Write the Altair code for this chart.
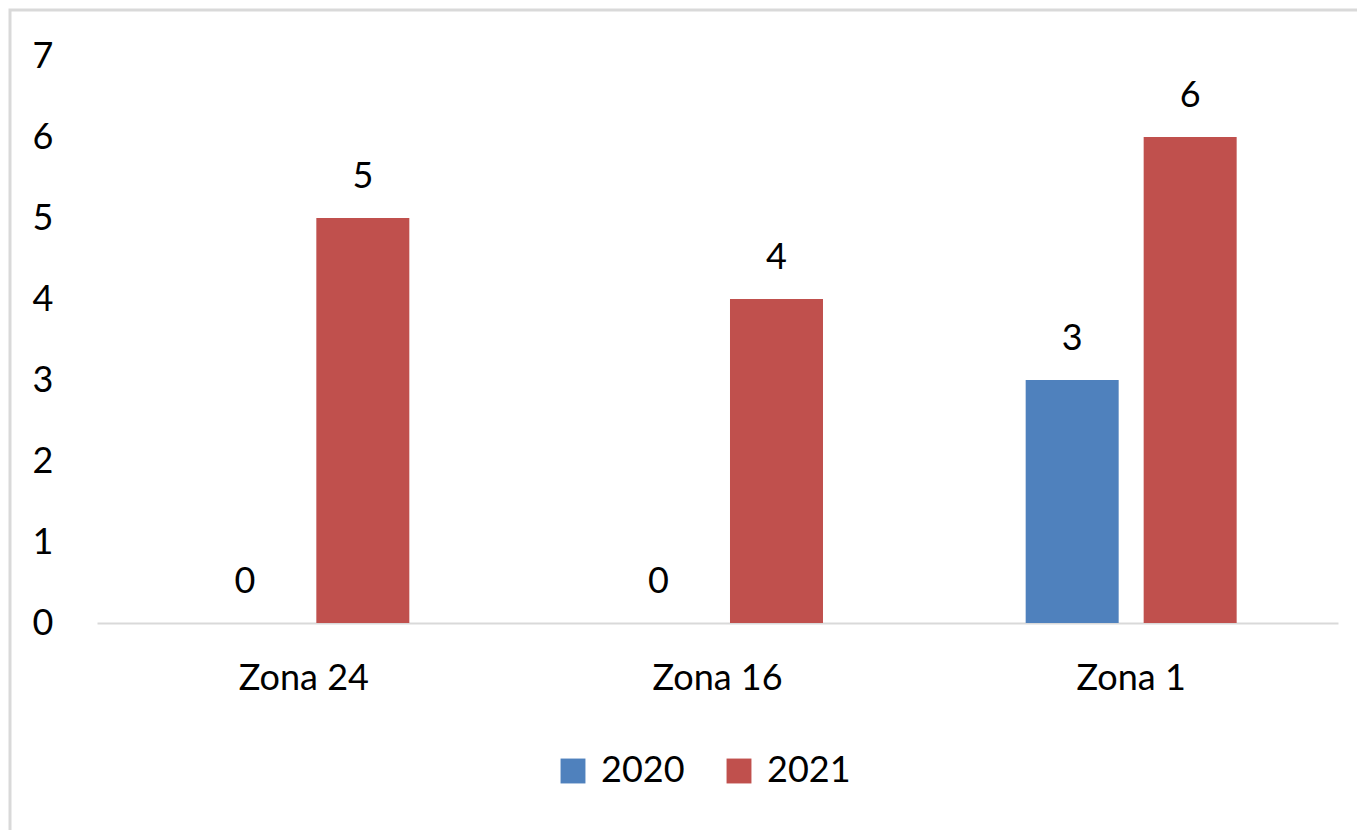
import altair as alt
import pandas as pd

zones = ["Zona 24", "Zona 16", "Zona 1"]
years = ["2020", "2021"]
values_2020 = [0, 0, 3]
values_2021 = [5, 4, 6]

rows = []
for i, z in enumerate(zones):
    rows.append({"zona": z, "year": "2020", "value": values_2020[i]})
    rows.append({"zona": z, "year": "2021", "value": values_2021[i]})
df = pd.DataFrame(rows)

FONT = "Lato"
W, H = 1241, 567

x_enc = alt.X("zona:N", sort=zones, title=None,
              scale=alt.Scale(paddingInner=0, paddingOuter=0),
              axis=alt.Axis(labelAngle=0, labelFontSize=36, labelFont=FONT, labelColor="#000000",
                            labelPadding=38, ticks=False, domainColor="#D9D9D9", domainWidth=2,
                            grid=False))
xo_enc = alt.XOffset("year:N", sort=years,
                     scale=alt.Scale(paddingInner=0.212, paddingOuter=0.859))
y_enc = alt.Y("value:Q", title=None,
              scale=alt.Scale(domain=[0, 7], nice=False),
              axis=alt.Axis(values=list(range(0, 8)), format="d", labelFontSize=36, labelFont=FONT,
                            labelColor="#000000", labelPadding=44, ticks=False, domain=False,
                            grid=False))

color_enc = alt.Color("year:N", sort=years,
                      scale=alt.Scale(domain=years, range=["#4F81BD", "#C0504D"]),
                      legend=alt.Legend(title=None, orient="none", direction="horizontal",
                                        legendX=458, legendY=697, symbolType="square",
                                        symbolSize=620, symbolStrokeWidth=0,
                                        labelFontSize=36, labelFont=FONT, labelColor="#000000",
                                        columnPadding=36, labelOffset=10, padding=0))

bars = alt.Chart(df).mark_bar(size=93).encode(
    x=x_enc, xOffset=xo_enc, y=y_enc, color=color_enc
)

labels = alt.Chart(df).mark_text(fontSize=36, font=FONT, color="#000000",
                                 baseline="alphabetic", dy=-30).encode(
    x=alt.X("zona:N", sort=zones), xOffset=alt.XOffset("year:N", sort=years),
    y="value:Q", text="value:Q"
)

border = alt.Chart(pd.DataFrame({"k": [0]})).mark_rect(
    fill=None, stroke="#D9D9D9", strokeWidth=3
).encode(
    x=alt.value(-87), x2=alt.value(1400), y=alt.value(-46), y2=alt.value(900)
)

chart = alt.layer(border, bars, labels).properties(
    width=W, height=H,
    autosize=alt.AutoSizeParams(type="none"),
    padding={"left": 89, "top": 48, "right": 19, "bottom": 207},
).configure(background="#FFFFFF").configure_view(stroke=None, strokeWidth=0)

chart.save("out.html", embed_options={"renderer": "svg", "actions": False})
